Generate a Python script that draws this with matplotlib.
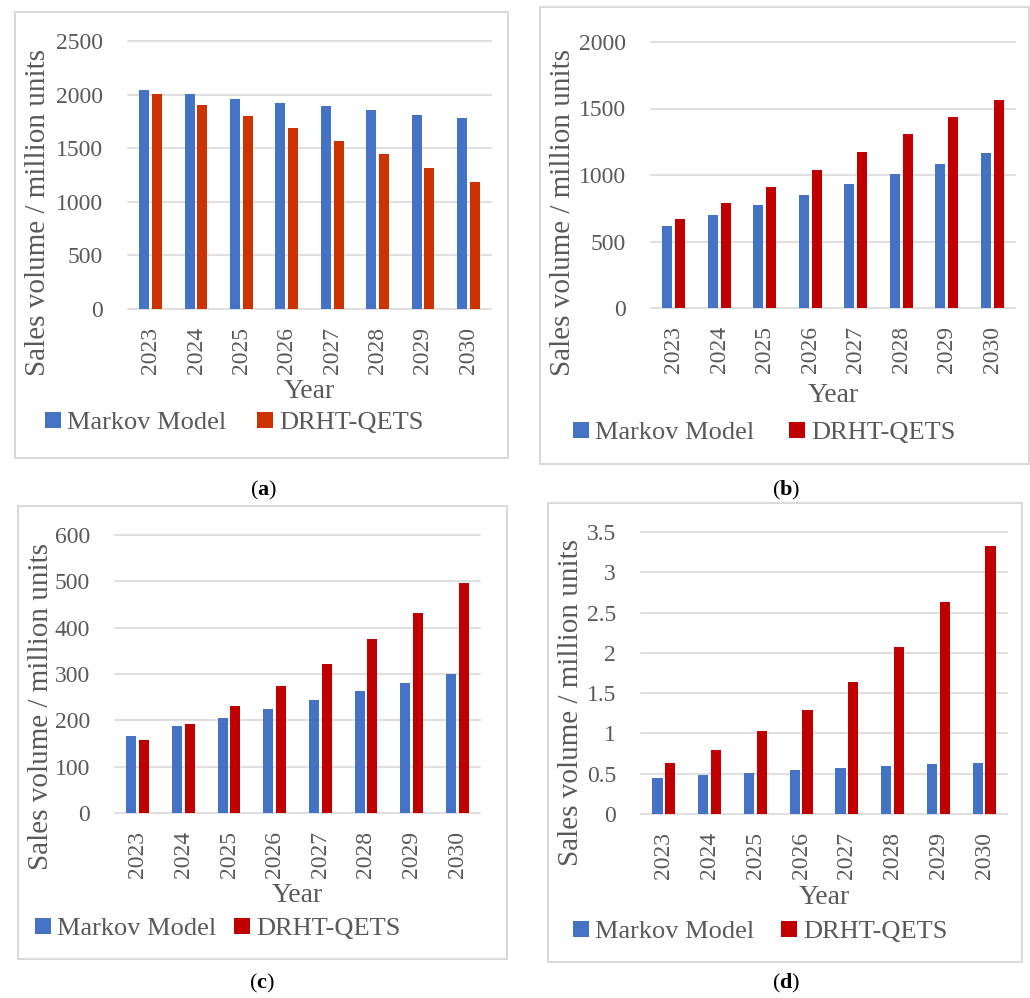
import numpy as np
import matplotlib
matplotlib.use("Agg")
from matplotlib import pyplot as plt
from matplotlib.patches import Rectangle
from matplotlib.ticker import StrMethodFormatter

plt.rcParams['font.family'] = ['Liberation Serif', 'DejaVu Serif']
plt.rcParams['mathtext.fontset'] = 'custom'
plt.rcParams['mathtext.bf'] = 'Liberation Serif:bold'
plt.rcParams['mathtext.rm'] = 'Liberation Serif'

years = ["2023", "2024", "2025", "2026", "2027", "2028", "2029", "2030"]

# (a)
markov_a = [2041, 2001, 1963, 1926, 1889, 1852, 1814, 1780]
drht_a = [2001, 1907, 1802, 1687, 1563, 1442, 1312, 1185]
# (b)
markov_b = [618, 696, 773, 851, 931, 1009, 1086, 1166]
drht_b = [666, 786, 911, 1041, 1174, 1307, 1439, 1564]
# (c)
markov_c = [167, 187, 206, 225, 244, 263, 281, 300]
drht_c = [158, 193, 231, 274, 321, 375, 432, 496]
# (d)
markov_d = [0.45, 0.48, 0.51, 0.546, 0.571, 0.596, 0.616, 0.637]
drht_d = [0.63, 0.80, 1.026, 1.294, 1.642, 2.072, 2.634, 3.325]

W, H = 1030, 998
BLUE = "#4472C4"
GREY = "#595959"
GRID = "#D9D9D9"

fig = plt.figure(figsize=(W / 100, H / 100), dpi=100)


def fx(px):
    return px / W


def fy(py):
    return 1 - py / H


# pixel layout of each sub-chart: axes box (l, t, r, b), outer frame, label spots
panels = [
    dict(m=markov_a, d=drht_a, red="#CC3300", ymax=2500, step=500,
         ax=(128, 41, 491, 309), frame=(15, 12, 508, 458), ylab=(38, 213), year=392,
         leg_x=45, leg_y=423, colsp=1.15, tag="a", tag_xy=(264, 490)),
    dict(m=markov_b, d=drht_b, red="#C00000", ymax=2000, step=500,
         ax=(651, 42, 1015, 308), frame=(540, 7, 1029, 464), ylab=(563, 213), year=396,
         leg_x=573, leg_y=433, colsp=1.3, tag="b", tag_xy=(786, 490)),
    dict(m=markov_c, d=drht_c, red="#C00000", ymax=600, step=100,
         ax=(115, 535, 480, 813), frame=(18, 506, 507, 959), ylab=(41, 707), year=896,
         leg_x=35, leg_y=929, colsp=0.65, tag="c", tag_xy=(262, 983)),
    dict(m=markov_d, d=drht_d, red="#C00000", ymax=3.5, step=0.5,
         ax=(641, 532, 1007, 814), frame=(548, 503, 1022, 962), ylab=(571, 703), year=897,
         leg_x=573, leg_y=932, colsp=1.0, tag="d", tag_xy=(786, 983)),
]

x = np.arange(len(years))
for p in panels:
    l, t, r, b = p["ax"]
    ax = fig.add_axes([fx(l), fy(b), fx(r) - fx(l), fy(t) - fy(b)])
    bm = ax.bar(x - 0.14, p["m"], width=0.22, color=BLUE, label="Markov Model", zorder=2)
    bd = ax.bar(x + 0.14, p["d"], width=0.22, color=p["red"], label="DRHT-QETS", zorder=2)
    ax.set_xlim(-0.5, len(years) - 0.5)
    ax.set_ylim(0, p["ymax"])
    ax.set_yticks(np.arange(0, p["ymax"] + p["step"] / 2, p["step"]))
    ax.yaxis.set_major_formatter(StrMethodFormatter("{x:g}"))
    ax.set_xticks(x)
    ax.set_xticklabels(years, rotation=90)
    ax.tick_params(axis="both", length=0, labelsize=17, colors=GREY)
    ax.tick_params(axis="y", pad=18)
    ax.tick_params(axis="x", pad=13)
    ax.grid(axis="y", color=GRID, linewidth=1.2, clip_on=False)
    ax.set_axisbelow(True)
    for s in ax.spines.values():
        s.set_visible(False)

    fig.text(fx(p["ylab"][0]), fy(p["ylab"][1]), "Sales volume / million units",
             rotation=90, ha="center", va="center", fontsize=21, color=GREY)
    fig.text(fx((l + r) / 2), fy(p["year"]), "Year", ha="center", va="center",
             fontsize=20, color=GREY)

    ax.legend(handles=[bm, bd], loc="center left",
              bbox_to_anchor=(fx(p["leg_x"]), fy(p["leg_y"])),
              bbox_transform=fig.transFigure, ncol=2, frameon=False,
              fontsize=19, labelcolor=GREY, handlelength=0.6, handleheight=0.6,
              handletextpad=0.25, columnspacing=p["colsp"], borderpad=0,
              borderaxespad=0)

    fl, ft, fr, fb = p["frame"]
    fig.add_artist(Rectangle((fx(fl), fy(fb)), fx(fr) - fx(fl), fy(ft) - fy(fb),
                             transform=fig.transFigure, fill=False,
                             edgecolor=GRID, linewidth=1.5))
    fig.text(fx(p["tag_xy"][0]), fy(p["tag_xy"][1]), "(" + r"$\mathbf{" + p["tag"] + "}$" + ")",
             ha="center", va="center", fontsize=16, color="black")

fig.savefig("out.png", dpi=100)
